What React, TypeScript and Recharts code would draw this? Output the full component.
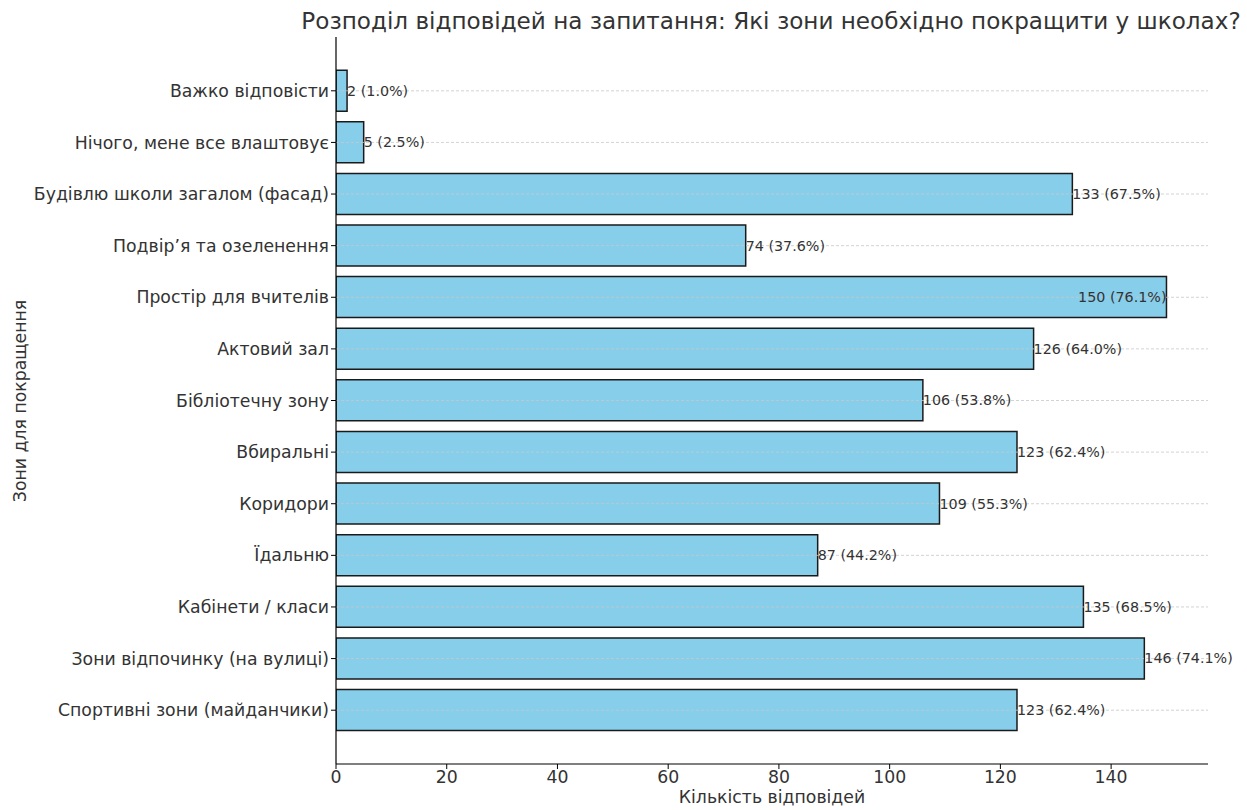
import React from "react";
import { BarChart, Bar, XAxis, YAxis, ReferenceLine, LabelList } from "recharts";

const categories = [
  "Важко відповісти",
  "Нічого, мене все влаштовує",
  "Будівлю школи загалом (фасад)",
  "Подвір’я та озеленення",
  "Простір для вчителів",
  "Актовий зал",
  "Бібліотечну зону",
  "Вбиральні",
  "Коридори",
  "Їдальню",
  "Кабінети / класи",
  "Зони відпочинку (на вулиці)",
  "Спортивні зони (майданчики)",
];
const counts = [2, 5, 133, 74, 150, 126, 106, 123, 109, 87, 135, 146, 123];
const percents = [1.0, 2.5, 67.5, 37.6, 76.1, 64.0, 53.8, 62.4, 55.3, 44.2, 68.5, 74.1, 62.4];
const xTicks = [0, 20, 40, 60, 80, 100, 120, 140];

const data = categories.map((name, i) => ({
  name,
  count: counts[i],
  label: `${counts[i]} (${percents[i].toFixed(1)}%)`,
}));
const maxCount = Math.max(...counts);

const FONT = "'DejaVu Sans', sans-serif";
const TEXT = "#333333";

function ValueLabel(props: any) {
  const { x, y, width, height, index } = props;
  const d = data[index];
  const isMax = d.count === maxCount;
  return (
    <text
      x={Number(x) + Number(width)}
      y={Number(y) + Number(height) / 2}
      dominantBaseline="central"
      textAnchor={isMax ? "end" : "start"}
      fontSize={14.3}
      fill={TEXT}
      fontFamily={FONT}
    >
      {d.label}
    </text>
  );
}

export default function App() {
  return (
    <div style={{ position: "absolute", left: 0, top: 0, width: 1247, height: 810, fontFamily: FONT, background: "#fff" }}>
      <div style={{ position: "absolute", left: 171, width: 1200, top: 8, textAlign: "center", fontSize: 23.1, color: TEXT, whiteSpace: "nowrap" }}>
        Розподіл відповідей на запитання: Які зони необхідно покращити у школах?
      </div>
      <BarChart
        width={1247}
        height={810}
        data={data}
        layout="vertical"
        margin={{ top: 37, right: 39, bottom: 0, left: 0 }}
        barCategoryGap="10%"
      >
        <XAxis
          type="number"
          domain={[0, 157.5]}
          ticks={xTicks}
          allowDataOverflow
          height={46}
          tickSize={5}
          tickMargin={2}
          tick={{ fontSize: 17.3, fill: TEXT, fontFamily: FONT }}
          tickLine={{ stroke: "#000" }}
          axisLine={{ stroke: "#000", strokeWidth: 1.2 }}
        />
        <YAxis
          type="category"
          dataKey="name"
          width={336}
          padding={{ top: 28, bottom: 28 }}
          tickSize={5}
          tickMargin={2}
          interval={0}
          tick={{ fontSize: 17.3, fill: TEXT, fontFamily: FONT }}
          tickLine={{ stroke: "#000" }}
          axisLine={{ stroke: "#000", strokeWidth: 1.2 }}
        />
        <Bar dataKey="count" fill="#87CEEB" stroke="#1a1a1a" strokeWidth={1.5} isAnimationActive={false}>
          <LabelList dataKey="label" content={ValueLabel} />
        </Bar>
        {categories.map((c) => (
          <ReferenceLine key={c} y={c} stroke="#c8c8c8" strokeDasharray="3 2" strokeWidth={0.8} />
        ))}
      </BarChart>
      <div style={{ position: "absolute", left: 336, width: 872, top: 787, textAlign: "center", fontSize: 17.3, color: TEXT }}>
        Кількість відповідей
      </div>
      <div
        style={{
          position: "absolute",
          left: 20,
          top: 401,
          transform: "translate(-50%, -50%) rotate(-90deg)",
          fontSize: 17.3,
          color: TEXT,
          whiteSpace: "nowrap",
        }}
      >
        Зони для покращення
      </div>
    </div>
  );
}
